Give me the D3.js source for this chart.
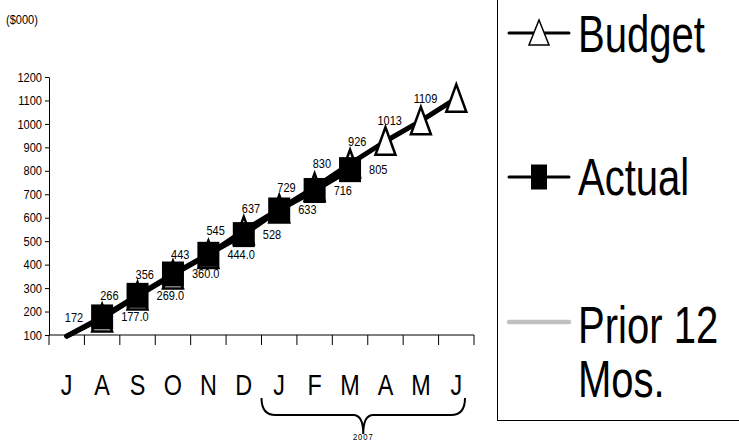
<!DOCTYPE html>
<html>
<head>
<meta charset="utf-8">
<script src="https://cdn.jsdelivr.net/npm/d3@7"></script>
<style>
  body { margin: 0; background: #fff; }
  text { font-family: "Liberation Sans", Arial, sans-serif; fill: #000; }
</style>
</head>
<body>
<div id="chart"></div>
<script>
const months = ["J", "A", "S", "O", "N", "D", "J", "F", "M", "A", "M", "J"];
const budget = [95, 172, 266, 356, 443, 545, 637, 729, 830, 926, 1013, 1109];
const actual = [95, 177, 269, 360, 444, 528, 633, 716, 805];
const actualLabels = ["", "177.0", "269.0", "360.0", "444.0", "528", "633", "716", "805"];
const prior = []; // no visible points in the source
const yTicks = [100, 200, 300, 400, 500, 600, 700, 800, 900, 1000, 1100, 1200];
const seriesNames = ["Budget", "Actual", "Prior 12 Mos."];
const unitLabel = "($000)";
const yearLabel = "2007";

const width = 739, height = 443;
const plot = { left: 49, right: 474, top: 77, bottom: 335 };

// condensed text: scale glyphs horizontally around the anchor point
const squeeze = (k, px, py) => `translate(${px},${py}) scale(${k},1)`;

const svg = d3.select("#chart")
  .append("svg")
  .attr("width", width)
  .attr("height", height);

const x = d3.scaleBand()
  .domain(d3.range(months.length))
  .range([plot.left, plot.right]);
const cx = i => x(i) + x.bandwidth() / 2;

const y = d3.scaleLinear()
  .domain([100, 1200])
  .range([plot.bottom, plot.top]);

// unit label
svg.append("text")
  .attr("transform", squeeze(0.85, 6, 24))
  .attr("font-size", 13)
  .text(unitLabel);

// y axis
const yAxis = svg.append("g")
  .attr("transform", `translate(${plot.left},0)`)
  .call(d3.axisLeft(y).tickValues(yTicks).tickSize(4).tickSizeOuter(0).tickFormat(""));
yAxis.select(".domain").attr("stroke", "#000");
yAxis.selectAll(".tick line").attr("stroke", "#000");
svg.append("g")
  .selectAll("text")
  .data(yTicks)
  .join("text")
    .attr("transform", d => squeeze(0.85, plot.left - 7, y(d)))
    .attr("dy", "0.36em")
    .attr("text-anchor", "end")
    .attr("font-size", 13)
    .text(d => d3.format("d")(d));

// x axis (category boundaries)
const gx = svg.append("g");
gx.append("line")
  .attr("x1", plot.left).attr("x2", plot.right)
  .attr("y1", plot.bottom).attr("y2", plot.bottom)
  .attr("stroke", "#000");
const bounds = d3.range(months.length).map(i => x(i)).concat([x(months.length - 1) + x.bandwidth()]);
gx.selectAll("line.tick")
  .data(bounds)
  .join("line")
    .attr("class", "tick")
    .attr("x1", d => d).attr("x2", d => d)
    .attr("y1", plot.bottom).attr("y2", plot.bottom + 10)
    .attr("stroke", "#000");
gx.selectAll("text.month")
  .data(months)
  .join("text")
    .attr("class", "month")
    .attr("transform", (d, i) => squeeze(0.78, cx(i), 395))
    .attr("text-anchor", "middle")
    .attr("font-size", 30)
    .text(d => d);

// brace under Jan..Jun
const bl = x(6), br = x(11) + x.bandwidth() - 9, bm = (bl + br) / 2;
svg.append("path")
  .attr("d", `M${bl},398 Q${bl},415 ${bl + 14},415 L${bm - 10},415 Q${bm},415 ${bm},434
              M${bm},434 Q${bm},415 ${bm + 10},415 L${br - 14},415 Q${br},415 ${br},398`)
  .attr("fill", "none")
  .attr("stroke", "#000")
  .attr("stroke-width", 2);
svg.append("text")
  .attr("transform", squeeze(0.9, bm, 440))
  .attr("text-anchor", "middle")
  .attr("font-size", 8.5)
  .attr("letter-spacing", 1)
  .text(yearLabel);

// lines
const line = d3.line()
  .x((d, i) => cx(i))
  .y(d => y(d));

svg.append("path")
  .datum(budget)
  .attr("d", line)
  .attr("fill", "none").attr("stroke", "#000")
  .attr("stroke-width", 5).attr("stroke-linecap", "round").attr("stroke-linejoin", "round");

svg.append("path")
  .datum(actual)
  .attr("d", line)
  .attr("fill", "none").attr("stroke", "#000")
  .attr("stroke-width", 5).attr("stroke-linecap", "round").attr("stroke-linejoin", "round");

if (prior.length) {
  svg.append("path")
    .datum(prior)
    .attr("d", line)
    .attr("fill", "none").attr("stroke", "#c0c0c0").attr("stroke-width", 4);
}

// markers (only points inside the value range)
const budgetPts = budget.map((v, i) => ({ v, i })).filter(d => d.v >= y.domain()[0]);
const actualPts = actual.map((v, i) => ({ v, i, label: actualLabels[i] })).filter(d => d.v >= y.domain()[0]);

const tri = "M0,-14 L10,13.5 L-10,13.5 Z";
svg.append("g")
  .selectAll("path")
  .data(budgetPts)
  .join("path")
    .attr("transform", d => `translate(${cx(d.i)},${y(d.v)})`)
    .attr("d", tri)
    .attr("fill", "#fff")
    .attr("stroke", "#000")
    .attr("stroke-width", 2.5)
    .attr("stroke-linejoin", "miter");

svg.append("g")
  .selectAll("rect")
  .data(actualPts)
  .join("rect")
    .attr("x", d => cx(d.i) - 11)
    .attr("y", d => y(d.v) - 12.5)
    .attr("width", 22)
    .attr("height", 25)
    .attr("fill", "#000");

// data labels
svg.append("g")
  .selectAll("text")
  .data(budgetPts)
  .join("text")
    .attr("transform", d => squeeze(0.88, cx(d.i) - 19, y(d.v)))
    .attr("dy", "0.35em")
    .attr("text-anchor", "end")
    .attr("font-size", 12.5)
    .text(d => d3.format("d")(d.v));

svg.append("g")
  .selectAll("text")
  .data(actualPts)
  .join("text")
    .attr("transform", d => squeeze(0.88, cx(d.i) + 19, y(d.v)))
    .attr("dy", "0.35em")
    .attr("text-anchor", "start")
    .attr("font-size", 12.5)
    .text(d => d.label);

// legend
const lg = svg.append("g");
lg.append("rect")
  .attr("x", 497.5).attr("y", -5)
  .attr("width", 260).attr("height", 425.5)
  .attr("fill", "#fff").attr("stroke", "#000");

const legendRows = [
  { name: seriesNames[0], ly: 33, color: "#000", w: 3, marker: "tri" },
  { name: seriesNames[1], ly: 177, color: "#000", w: 3, marker: "sq" },
  { name: seriesNames[2], ly: 322, color: "#c0c0c0", w: 4.5, marker: null }
];
legendRows.forEach(r => {
  lg.append("line")
    .attr("x1", 509).attr("x2", 569)
    .attr("y1", r.ly).attr("y2", r.ly)
    .attr("stroke", r.color).attr("stroke-width", r.w)
    .attr("stroke-linecap", "round");
  if (r.marker === "tri") {
    lg.append("path")
      .attr("transform", `translate(539,${r.ly})`)
      .attr("d", "M0,-13 L10,12 L-10,12 Z")
      .attr("fill", "#fff").attr("stroke", "#000").attr("stroke-width", 1.5);
  } else if (r.marker === "sq") {
    lg.append("rect")
      .attr("x", 531).attr("y", r.ly - 12.5)
      .attr("width", 16).attr("height", 25)
      .attr("fill", "#000");
  }
});
const priorWords = seriesNames[2].split(" ");
const legendTexts = [
  { t: seriesNames[0], y: 52 },
  { t: seriesNames[1], y: 195 },
  { t: priorWords.slice(0, 2).join(" "), y: 343 },
  { t: priorWords[2], y: 397 }
];
lg.selectAll("text")
  .data(legendTexts)
  .join("text")
    .attr("transform", d => squeeze(0.77, 578, d.y))
    .attr("font-size", 52)
    .text(d => d.t);
</script>
</body>
</html>
